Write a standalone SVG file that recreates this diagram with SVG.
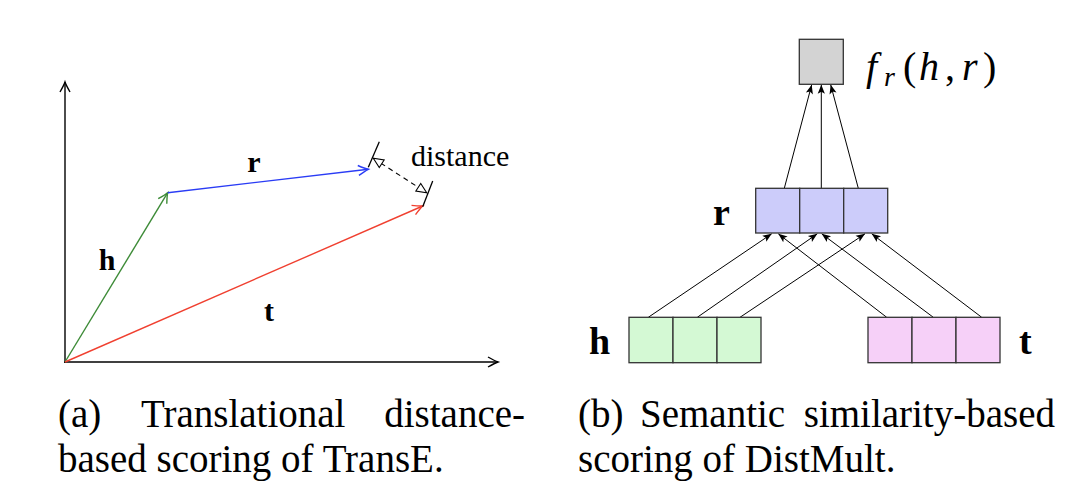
<svg xmlns="http://www.w3.org/2000/svg" width="1084" height="504" viewBox="0 0 1084 504">
<style>
  text { font-family: "Liberation Serif", "Times New Roman", serif; fill: #000; }
  .cap { font-size: 39px; }
  .lbl { font-weight: bold; font-size: 30px; }
  .lblR { font-weight: bold; font-size: 38px; }
  .math { font-size: 40px; }
  .it { font-style: italic; }
  .ax { stroke: #000; stroke-width: 1.4; fill: none; }
  .vec { stroke-width: 1.4; fill: none; }
  .cell { stroke: #333; stroke-width: 1.3; }
  .arr { stroke: #000; stroke-width: 1; fill: none; marker-end: url(#tri); }
</style>
<defs>
  <marker id="toK" markerUnits="userSpaceOnUse" viewBox="-12 -8 14 16" refX="0" refY="0" markerWidth="14" markerHeight="16" orient="auto" overflow="visible">
    <path d="M-10,-5 Q-3,-1 0,0 Q-3,1 -10,5" fill="none" stroke="#000" stroke-width="1.4"/>
  </marker>
  <marker id="toG" markerUnits="userSpaceOnUse" viewBox="-12 -8 14 16" refX="0" refY="0" markerWidth="14" markerHeight="16" orient="auto" overflow="visible">
    <path d="M-10,-5 Q-3,-1 0,0 Q-3,1 -10,5" fill="none" stroke="#3d8b37" stroke-width="1.4"/>
  </marker>
  <marker id="toB" markerUnits="userSpaceOnUse" viewBox="-12 -8 14 16" refX="0" refY="0" markerWidth="14" markerHeight="16" orient="auto" overflow="visible">
    <path d="M-10,-5 Q-3,-1 0,0 Q-3,1 -10,5" fill="none" stroke="#2a3cf5" stroke-width="1.4"/>
  </marker>
  <marker id="toR" markerUnits="userSpaceOnUse" viewBox="-12 -8 14 16" refX="0" refY="0" markerWidth="14" markerHeight="16" orient="auto" overflow="visible">
    <path d="M-10,-5 Q-3,-1 0,0 Q-3,1 -10,5" fill="none" stroke="#f04030" stroke-width="1.4"/>
  </marker>
  <marker id="open" markerUnits="userSpaceOnUse" viewBox="-12 -8 14 16" refX="0" refY="0" markerWidth="14" markerHeight="16" orient="auto-start-reverse" overflow="visible">
    <path d="M0,0 L-10,-4.5 L-10,4.5 Z" fill="#fff" stroke="#000" stroke-width="1.1"/>
  </marker>
  <marker id="tri" markerUnits="userSpaceOnUse" viewBox="-12 -8 14 16" refX="0" refY="0" markerWidth="14" markerHeight="16" orient="auto" overflow="visible">
    <path d="M0,0 L-9,-3.6 L-7,0 L-9,3.6 Z" fill="#000"/>
  </marker>
</defs>

<!-- (a) TransE -->
<g id="axes">
  <line class="ax" x1="65" y1="363" x2="65" y2="82" marker-end="url(#toK)"/>
  <line class="ax" x1="64" y1="362" x2="498" y2="362" marker-end="url(#toK)"/>
</g>
<g id="vec-h">
  <line class="vec" stroke="#3d8b37" x1="65" y1="362" x2="167.7" y2="192.7" marker-end="url(#toG)"/>
  <text class="lbl" x="107" y="270" text-anchor="middle">h</text>
</g>
<g id="vec-r">
  <line class="vec" stroke="#2a3cf5" x1="167.7" y1="192.7" x2="368.3" y2="169.3" marker-end="url(#toB)"/>
  <text class="lbl" x="254" y="172" text-anchor="middle">r</text>
</g>
<g id="vec-t">
  <line class="vec" stroke="#f04030" x1="65" y1="362" x2="422.7" y2="206" marker-end="url(#toR)"/>
  <text class="lbl" x="269" y="321" text-anchor="middle">t</text>
</g>
<g id="distance">
  <line stroke="#000" stroke-width="1.3" x1="368.3" y1="167.3" x2="379.3" y2="141.7"/>
  <line stroke="#000" stroke-width="1.3" x1="422.7" y1="206.7" x2="432.7" y2="181"/>
  <line stroke="#000" stroke-width="1.1" stroke-dasharray="5,4" x1="373.3" y1="158.3" x2="426.7" y2="192.7" marker-start="url(#open)" marker-end="url(#open)"/>
  <text x="411" y="166" font-size="30">distance</text>
</g>

<!-- (b) DistMult -->
<g id="connectors">
  <line class="arr" x1="784.3" y1="188.3" x2="811.7" y2="84.8"/>
  <line class="arr" x1="821.3" y1="188.3" x2="821.3" y2="84.8"/>
  <line class="arr" x1="858.3" y1="188.3" x2="830.7" y2="84.8"/>
  <line class="arr" x1="648.3" y1="317.3" x2="771.7" y2="233.8"/>
  <line class="arr" x1="697.3" y1="317.3" x2="817.3" y2="233.8"/>
  <line class="arr" x1="740" y1="317.3" x2="865" y2="233.8"/>
  <line class="arr" x1="886.7" y1="317.3" x2="778.3" y2="233.8"/>
  <line class="arr" x1="933.3" y1="317.3" x2="821.7" y2="233.8"/>
  <line class="arr" x1="981.7" y1="317.3" x2="871.7" y2="233.8"/>
</g>
<g id="score">
  <rect class="cell" x="799.3" y="39.3" width="44" height="45" fill="#d3d3d3"/>
  <text class="math" y="80"><tspan class="it" x="866">f</tspan><tspan class="it" x="884" y="86" font-size="28">r</tspan><tspan x="903" y="80">(</tspan><tspan class="it" x="919">h</tspan><tspan x="945">,</tspan><tspan class="it" x="962">r</tspan><tspan x="983">)</tspan></text>
</g>
<g id="r-vector">
  <rect class="cell" x="755.7" y="188.3" width="44" height="44.7" fill="#ccccfa"/>
  <rect class="cell" x="799.7" y="188.3" width="44" height="44.7" fill="#ccccfa"/>
  <rect class="cell" x="843.7" y="188.3" width="44" height="44.7" fill="#ccccfa"/>
  <text class="lblR" x="713" y="225">r</text>
</g>
<g id="h-vector">
  <rect class="cell" x="629" y="317.3" width="44" height="45.4" fill="#d4f9d4"/>
  <rect class="cell" x="673" y="317.3" width="44" height="45.4" fill="#d4f9d4"/>
  <rect class="cell" x="717" y="317.3" width="44" height="45.4" fill="#d4f9d4"/>
  <text class="lblR" x="589" y="354">h</text>
</g>
<g id="t-vector">
  <rect class="cell" x="868" y="317.3" width="44" height="45.4" fill="#f6d0f8"/>
  <rect class="cell" x="912" y="317.3" width="44" height="45.4" fill="#f6d0f8"/>
  <rect class="cell" x="956" y="317.3" width="44" height="45.4" fill="#f6d0f8"/>
  <text class="lblR" x="1019" y="354">t</text>
</g>

<!-- captions -->
<g id="caption-a">
  <text class="cap" x="58" y="426.5">(a)</text>
  <text class="cap" x="141" y="426.5">Translational</text>
  <text class="cap" x="525" y="426.5" text-anchor="end">distance-</text>
  <text class="cap" x="58" y="471.5">based scoring of TransE.</text>
</g>
<g id="caption-b">
  <text class="cap" x="578" y="426.5">(b)</text>
  <text class="cap" x="640" y="426.5">Semantic</text>
  <text class="cap" x="1055" y="426.5" text-anchor="end">similarity-based</text>
  <text class="cap" x="578" y="471.5">scoring of DistMult.</text>
</g>
</svg>
